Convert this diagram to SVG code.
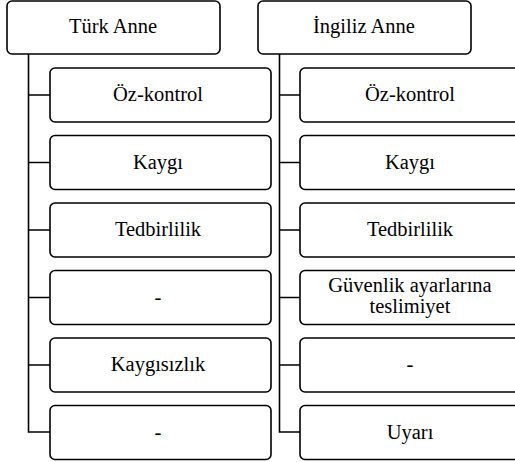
<svg xmlns="http://www.w3.org/2000/svg" width="515" height="462" viewBox="0 0 515 462">
<style>
.box{fill:#fff;stroke:#000;stroke-width:1.6}
.ln{fill:none;stroke:#000;stroke-width:1.6}
.t{font-family:'Liberation Serif','Times New Roman',serif;font-size:20.5px;fill:#000;text-anchor:middle}
</style>
<rect width="515" height="462" fill="#fff"/>
<g id="connectors">
<path class="ln" d="M28.5 54 V432 H50 M28.5 95 H50 M28.5 162.5 H50 M28.5 230 H50 M28.5 297.5 H50 M28.5 365 H50"/>
<path class="ln" d="M279.5 54 V432 H300 M279.5 95 H300 M279.5 162.5 H300 M279.5 230 H300 M279.5 297.5 H300 M279.5 365 H300"/>
</g>
<g id="turk-anne"><rect class="box" x="7" y="1" width="213" height="53" rx="5"/><text class="t" x="113" y="33">Türk Anne</text></g>
<g id="ingiliz-anne"><rect class="box" x="258" y="1" width="213" height="53" rx="5"/><text class="t" x="364" y="33">İngiliz Anne</text></g>
<g id="t1"><rect class="box" x="50" y="68" width="221" height="54" rx="5"/><text class="t" x="158" y="101">Öz-kontrol</text></g>
<g id="t2"><rect class="box" x="50" y="135.5" width="221" height="54" rx="5"/><text class="t" x="158" y="168.5">Kaygı</text></g>
<g id="t3"><rect class="box" x="50" y="203" width="221" height="54" rx="5"/><text class="t" x="158" y="236">Tedbirlilik</text></g>
<g id="t4"><rect class="box" x="50" y="270.5" width="221" height="54" rx="5"/><text class="t" x="158" y="303.5">-</text></g>
<g id="t5"><rect class="box" x="50" y="338" width="221" height="54" rx="5"/><text class="t" x="158" y="371">Kaygısızlık</text></g>
<g id="t6"><rect class="box" x="50" y="405.5" width="221" height="54" rx="5"/><text class="t" x="158" y="438.5">-</text></g>
<g id="i1"><rect class="box" x="300" y="68" width="221" height="54" rx="5"/><text class="t" x="410" y="101">Öz-kontrol</text></g>
<g id="i2"><rect class="box" x="300" y="135.5" width="221" height="54" rx="5"/><text class="t" x="410" y="168.5">Kaygı</text></g>
<g id="i3"><rect class="box" x="300" y="203" width="221" height="54" rx="5"/><text class="t" x="410" y="236">Tedbirlilik</text></g>
<g id="i4"><rect class="box" x="300" y="270.5" width="221" height="54" rx="5"/><text class="t" x="410" y="292">Güvenlik ayarlarına</text><text class="t" x="410" y="313">teslimiyet</text></g>
<g id="i5"><rect class="box" x="300" y="338" width="221" height="54" rx="5"/><text class="t" x="410" y="371">-</text></g>
<g id="i6"><rect class="box" x="300" y="405.5" width="221" height="54" rx="5"/><text class="t" x="410" y="438.5">Uyarı</text></g>
</svg>
